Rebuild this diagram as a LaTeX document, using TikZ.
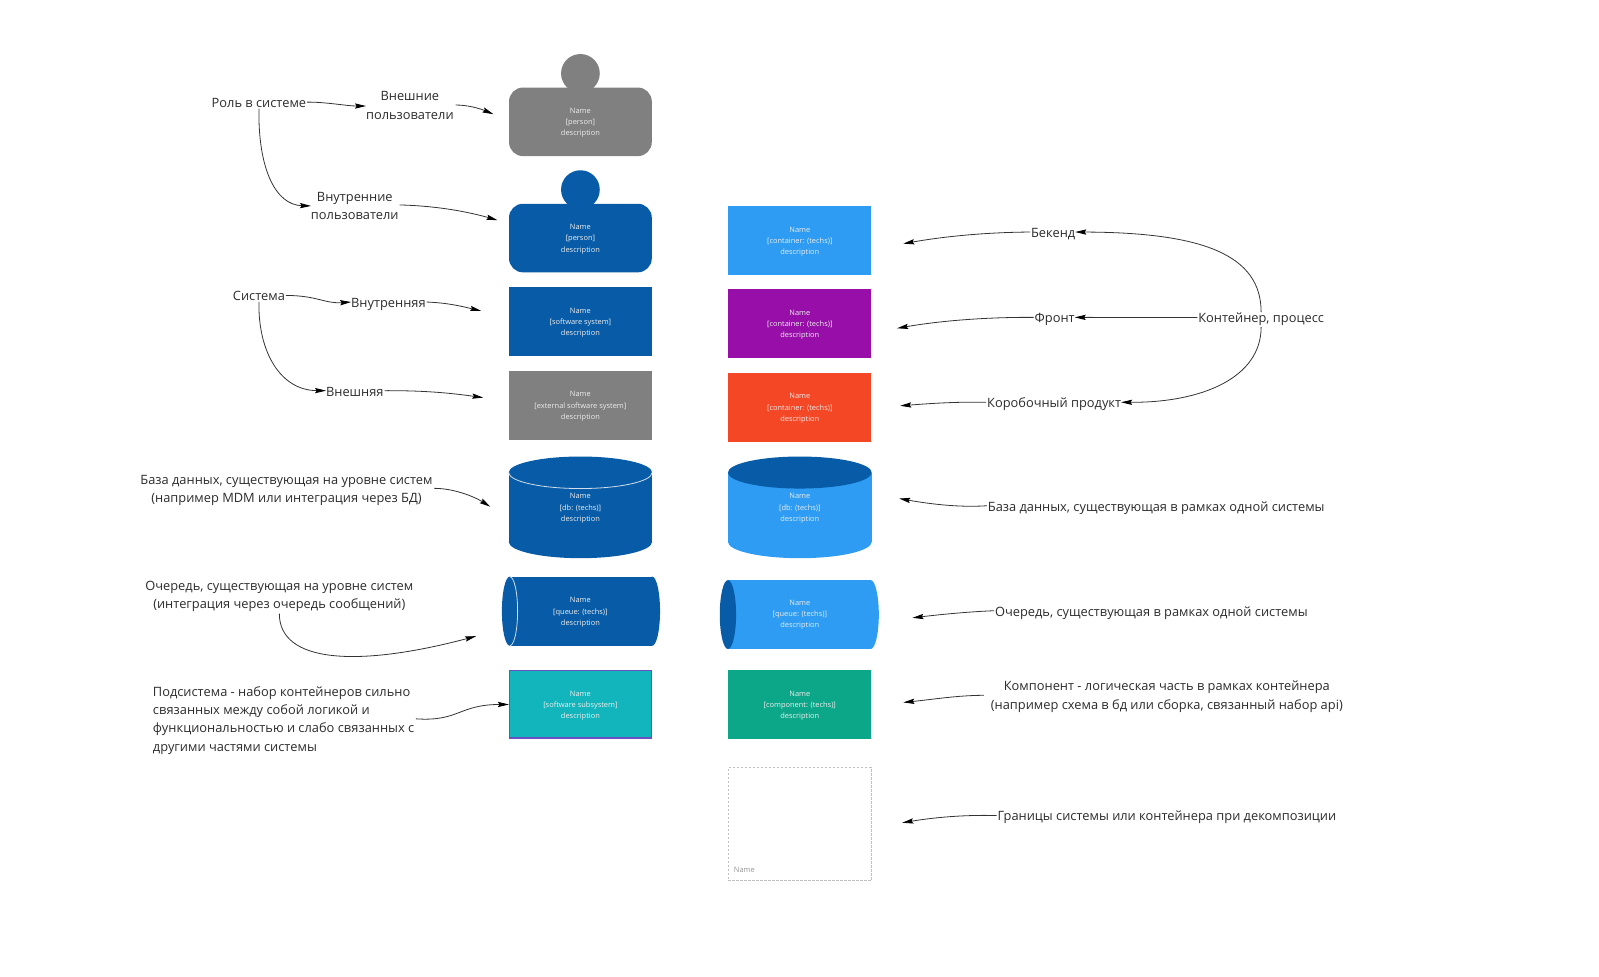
\documentclass[tikz,border=0pt]{standalone}
\usepackage{fontspec}
\setmainfont{Open Sans}
\usetikzlibrary{arrows.meta}
\definecolor{dkblue}{HTML}{085CA7}
\definecolor{ltblue}{HTML}{2D9CF2}
\definecolor{grayfill}{HTML}{808080}
\definecolor{purpfill}{HTML}{970FA8}
\definecolor{orangefill}{HTML}{F44725}
\definecolor{tealfill}{HTML}{12B5BB}
\definecolor{greenfill}{HTML}{0CA789}
\definecolor{subborder}{HTML}{6A4FC0}
\definecolor{labeltext}{HTML}{2B2B2B}
\newcommand{\nmline}{\rule{0pt}{3.7pt}Name}
\tikzset{
  x=0.5098pt,y=-0.5098pt,
  lab/.style={inner sep=0pt,outer sep=0pt,text=labeltext,align=center,font=\fontsize{6.42}{9.2}\selectfont},
  lableft/.style={lab,align=left},
  arr/.style={draw=black!80,line width=0.4pt,-{Stealth[length=5.5pt,width=2.6pt,inset=0.8pt,color=black]},shorten <=0.5pt},
  small/.style={inner sep=0pt,text=white!93!black,align=center,font=\fontsize{3.72}{5.6}\selectfont},
  boxnode/.style={small,minimum width=71.4pt,minimum height=34.3pt,draw=none},
  rim/.style={draw=white!80!dkblue,line width=0.4pt},
}
\begin{document}
\begin{tikzpicture}
\useasboundingbox (0,0) rectangle (1568.4,958.3);
% persons
\fill[grayfill] (569.3,72) circle[radius=19];
\node[boxnode,fill=grayfill,rounded corners=7pt] (person1) at (569.3,119.5) {\nmline\\{}[person]\\description};
\fill[dkblue] (569.3,186) circle[radius=19];
\node[boxnode,fill=dkblue,rounded corners=7pt] (person2) at (569.3,233.5) {\nmline\\{}[person]\\description};
% systems
\node[boxnode,fill=dkblue] (sys1) at (569.3,315.5) {\nmline\\{}[software system]\\description};
\node[boxnode,fill=grayfill] (sys2) at (569.3,397.5) {\nmline\\{}[external software system]\\description};
% containers
\node[boxnode,fill=ltblue] (cont1) at (784.5,236) {\nmline\\{}[container: (techs)]\\description};
\node[boxnode,fill=purpfill] (cont2) at (784.5,317.5) {\nmline\\{}[container: (techs)]\\description};
\node[boxnode,fill=orangefill] (cont3) at (784.5,399.5) {\nmline\\{}[container: (techs)]\\description};
% databases
\fill[dkblue] (569.3,463.5) ellipse[x radius=70.3,y radius=15.7];
\fill[dkblue] (569.3,531.5) ellipse[x radius=70.3,y radius=16];
\fill[dkblue] (499,463.5) rectangle (639.6,531.5);
\draw[rim] (499,463.5) .. controls (499,472.2) and (530.5,479.2) .. (569.3,479.2) .. controls (608.1,479.2) and (639.6,472.2) .. (639.6,463.5);
\node[small] (db1) at (569.3,497.5) {\nmline\\{}[db: (techs)]\\description};
\fill[ltblue] (784.5,531.5) ellipse[x radius=70.5,y radius=16];
\fill[ltblue] (714,463.5) rectangle (855,531.5);
\fill[dkblue] (784.5,463.5) ellipse[x radius=70.5,y radius=15.7];
\node[small] (db2) at (784.5,497.5) {\nmline\\{}[db: (techs)]\\description};
% queues
\fill[dkblue] (500,599.5) ellipse[x radius=7.7,y radius=33.9];
\fill[dkblue] (639.7,599.5) ellipse[x radius=7.7,y radius=33.9];
\fill[dkblue] (500,565.6) rectangle (639.7,633.4);
\draw[rim] (500,565.6) .. controls (504.3,565.6) and (507.7,580.8) .. (507.7,599.5) .. controls (507.7,618.2) and (504.3,633.4) .. (500,633.4);
\node[small] (q1) at (569.3,599.5) {\nmline\\{}[queue: (techs)]\\description};
\fill[ltblue] (854,602.8) ellipse[x radius=8,y radius=33.8];
\fill[ltblue] (714,569) rectangle (854,636.6);
\fill[dkblue] (714,602.8) ellipse[x radius=8,y radius=33.8];
\node[small] (q2) at (784.5,602) {\nmline\\{}[queue: (techs)]\\description};
% subsystem, component
\node[boxnode,fill=tealfill,draw=subborder,line width=0.7pt,minimum width=70.8pt,minimum height=33.7pt] (subsys) at (569.3,691) {\nmline\\{}[software subsystem]\\description};
\node[boxnode,fill=greenfill] (comp) at (784.5,691) {\nmline\\{}[component: (techs)]\\description};
% boundary
\node[draw=black!25,dash pattern=on 1.2pt off 0.8pt,line width=0.4pt,minimum width=71.6pt,minimum height=56.4pt,inner sep=0pt] (bound) at (784.5,808.5) {};
\node[anchor=west,inner sep=0pt,text=black!42,font=\fontsize{3.72}{5.6}\selectfont] (boundname) at (719.5,853.5) {Name};
% labels
\node[lab] (role) at (254,101) {Роль в системе};
\node[lab] (ext) at (402,103.5) {Внешние\\пользователи};
\node[lab] (int) at (348,202) {Внутренние\\пользователи};
\node[lab] (sysl) at (254,290.5) {Система};
\node[lab] (inner) at (381,298.5) {Внутренняя};
\node[lab] (outer) at (348,384) {Внешняя};
\node[lab] (dbl) at (281,481) {База данных, существующая на уровне систем\\(например MDM или интеграция через БД)};
\node[lab] (ql) at (274,585) {Очередь, существующая на уровне систем\\(интеграция через очередь сообщений)};
\node[lableft,anchor=west] (subl) at (150,706.5) {Подсистема - набор контейнеров сильно\\связанных между собой логикой и\\функциональностью и слабо связанных с\\другими частями системы};
\node[lab] (back) at (1033,229.5) {Бекенд};
\node[lab] (front) at (1034.5,313.5) {Фронт};
\node[lab] (boxp) at (1034,396.5) {Коробочный продукт};
\node[lab] (contl) at (1237,313.5) {Контейнер, процесс};
\node[lab,anchor=west] (dbr) at (969,498) {База данных, существующая в рамках одной системы};
\node[lab,anchor=west] (qr) at (976,601) {Очередь, существующая в рамках одной системы};
\node[lab] (compl) at (1144.5,683.5) {Компонент - логическая часть в рамках контейнера\\(например схема в бд или сборка, связанный набор api)};
\node[lab,anchor=west] (boundl) at (978.5,802) {Границы системы или контейнера при декомпозиции};
% free ends
\coordinate (t0) at (359,104);
\coordinate (t1) at (484,112);
\coordinate (t2) at (488,216);
\coordinate (t3) at (472,305);
\coordinate (t4) at (474,390);
\coordinate (t5) at (481,497);
\coordinate (t6) at (467,624);
\coordinate (t7) at (886,239);
\coordinate (t8) at (880,322);
\coordinate (t9) at (883,398);
\coordinate (t10) at (882,489);
\coordinate (t11) at (895,606);
\coordinate (t12) at (886,689);
\coordinate (t13) at (885,807);
\coordinate (s1) at (446,103);
\coordinate (s2) at (391,201);
\coordinate (s3) at (425,479);
\coordinate (s4) at (274,601);
\coordinate (s5) at (407,705);
\coordinate (s6) at (966,682);
% connectors
\draw[arr] (role.mid east) .. controls (320,100) and (340,104) .. (t0);
\draw[arr] (s1) .. controls (460,103) and (472,107) .. (t1);
\draw[arr] (role.south) .. controls (253,165) and (270,201) .. (int.west);
\draw[arr] (s2) .. controls (430,202) and (460,208) .. (t2);
\draw[arr] (sysl.mid east) .. controls (312,290) and (318,298) .. (inner.mid west);
\draw[arr] (inner.mid east) .. controls (440,297) and (455,301) .. (t3);
\draw[arr] (sysl.south) .. controls (253,345) and (275,383) .. (outer.mid west);
\draw[arr] (outer.mid east) .. controls (420,383) and (445,386) .. (t4);
\draw[arr] (s3) .. controls (445,479) and (465,487) .. (t5);
\draw[arr] (s4) .. controls (274,650) and (350,655) .. (t6);
\draw[arr] (s5) .. controls (450,708) and (450,691) .. (subsys.west);
\draw[arr] (back.mid west) .. controls (960,228) and (920,233) .. (t7);
\draw[arr] (front.mid west) .. controls (965,311) and (920,315) .. (t8);
\draw[arr] (boxp.mid west) .. controls (935,394) and (910,396) .. (t9);
\draw[arr] (contl.north) .. controls (1237,250) and (1180,228) .. (back.mid east);
\draw[arr] (contl.mid west) -- (front.mid east);
\draw[arr] (contl.south) .. controls (1237,370) and (1180,395) .. (boxp.mid east);
\draw[arr] (dbr.mid west) .. controls (940,498) and (910,494) .. (t10);
\draw[arr] (qr.mid west) .. controls (950,600) and (920,603) .. (t11);
\draw[arr] (s6) .. controls (940,682) and (915,686) .. (t12);
\draw[arr] (boundl.mid west) .. controls (945,799) and (915,802) .. (t13);
\end{tikzpicture}
\end{document}
